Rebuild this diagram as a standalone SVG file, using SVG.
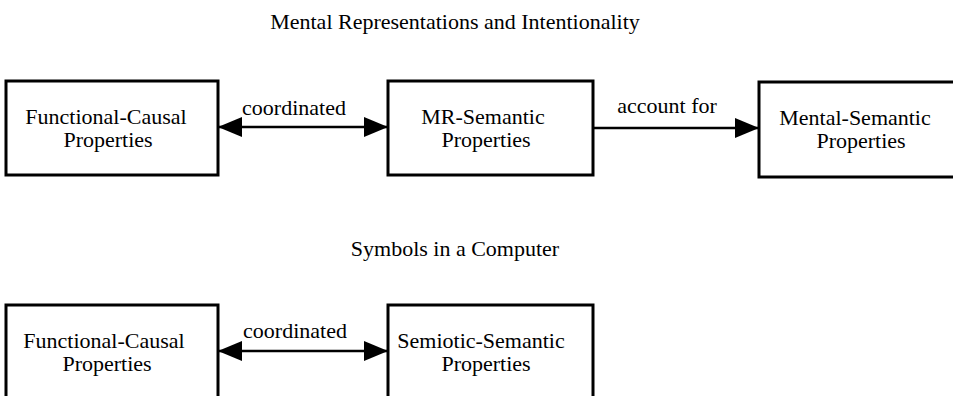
<svg xmlns="http://www.w3.org/2000/svg" width="953" height="396" viewBox="0 0 953 396">
<style>
text{font-family:"Liberation Serif","Times New Roman",serif;font-size:22px;fill:#000;text-anchor:middle}
.box{fill:#fff;stroke:#000;stroke-width:3}
.conn{stroke:#000;stroke-width:2.5;fill:none}
</style>
<defs>
<marker id="ah" markerUnits="userSpaceOnUse" markerWidth="26" markerHeight="22" refX="24" refY="10" orient="auto-start-reverse" viewBox="0 0 26 22">
<path d="M0,0 L24,10 L0,20 Z" fill="#000"/>
</marker>
</defs>
<rect width="953" height="396" fill="#fff"/>
<text id="title1" x="455" y="29">Mental Representations and Intentionality</text>
<text id="title2" x="455" y="256">Symbols in a Computer</text>
<g id="connectors">
<line class="conn" x1="218" y1="127" x2="388" y2="127" marker-start="url(#ah)" marker-end="url(#ah)"/>
<text x="294" y="115">coordinated</text>
<line class="conn" x1="594" y1="128" x2="759" y2="128" marker-end="url(#ah)"/>
<text x="667" y="113">account for</text>
<line class="conn" x1="218" y1="351" x2="388" y2="351" marker-start="url(#ah)" marker-end="url(#ah)"/>
<text x="295" y="338">coordinated</text>
</g>
<g id="fc1">
<rect class="box" x="6" y="81" width="212" height="94"/>
<text x="106" y="124">Functional-Causal</text>
<text x="108" y="147">Properties</text>
</g>
<g id="mr">
<rect class="box" x="388" y="81" width="205" height="94"/>
<text x="483" y="124">MR-Semantic</text>
<text x="486" y="147">Properties</text>
</g>
<g id="ms">
<rect class="box" x="759" y="82" width="200" height="95"/>
<text x="855" y="125">Mental-Semantic</text>
<text x="861" y="148">Properties</text>
</g>
<g id="fc2">
<rect class="box" x="6" y="305" width="212" height="110"/>
<text x="104" y="348">Functional-Causal</text>
<text x="107" y="371">Properties</text>
</g>
<g id="ss">
<rect class="box" x="388" y="305" width="205" height="110"/>
<text x="481" y="348">Semiotic-Semantic</text>
<text x="486" y="371">Properties</text>
</g>
</svg>
